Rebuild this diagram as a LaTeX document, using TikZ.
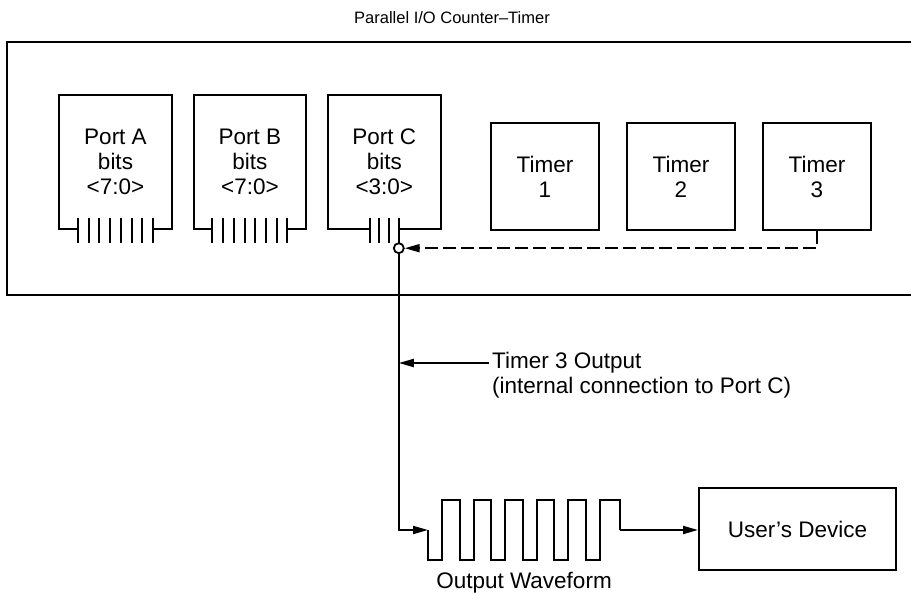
\documentclass[tikz,border=0pt]{standalone}
\usepackage{fontspec}
\setmainfont{Liberation Sans}
\usetikzlibrary{arrows.meta, positioning}

\begin{document}
\begin{tikzpicture}[x=1pt, y=-1pt,
    wire/.style={line width=2pt},
    dashwire/.style={line width=2pt, dash pattern=on 13pt off 5pt},
    sig/.style={-{Triangle[length=15pt,width=8pt]}},
    txt/.style={font=\fontsize{22.5}{25}\selectfont, inner sep=3pt},
    portbox/.style={txt, minimum width=112pt, minimum height=134pt, align=center},
    timerbox/.style={txt, draw, line width=2pt, minimum width=108pt, minimum height=107pt, align=center},
    tapcircle/.style={circle, draw, line width=1.8pt, fill=white, minimum size=10pt, inner sep=0pt}
  ]
    \useasboundingbox (0,0) rectangle (911,594);

    % chip outline, open to the right
    \node[font=\fontsize{16.5}{20}\selectfont] (title) at (452,18) {Parallel I/O Counter–Timer};
    \draw[wire] (911,42) -- (7,42) -- (7,295) -- (911,295);

    % ports
    \node[portbox] (pa) at (115.5,162) {Port A\\bits\\<7:0>};
    \node[portbox, right=22pt of pa] (pb) {Port B\\bits\\<7:0>};
    \node[portbox, right=22pt of pb] (pc) {Port C\\bits\\<3:0>};
    \foreach \p/\w in {pa/37.5, pb/37.5, pc/14.5}
      \draw[wire] ([xshift=-\w pt]\p.south) -- (\p.south west) -- (\p.north west)
        -- (\p.north east) -- (\p.south east) -- ([xshift=\w pt]\p.south);
    \foreach \p in {pa,pb}
      \foreach \i in {0,...,7}
        \draw[wire] ([xshift={(-37.5+\i*75/7)*1pt}, yshift=11pt]\p.south) -- ++(0,25);
    \foreach \i in {0,...,3}
      \draw[wire] ([xshift={(-14.5+\i*29/3)*1pt}, yshift=11pt]pc.south) -- ++(0,25);
    \node[tapcircle] (tap) at ([xshift=14.5pt, yshift=-19pt]pc.south) {};

    % timers
    \node[timerbox] (t1) at (545,176.5) {Timer\\1};
    \node[timerbox, right=26pt of t1] (t2) {Timer\\2};
    \node[timerbox, right=26pt of t2] (t3) {Timer\\3};
    \draw[dashwire, sig] (t3.south) |- (tap.east);

    % output path
    \coordinate (w0) at (428,530);
    \draw[wire, sig] (tap.south) |- (w0);
    \node[txt, anchor=west, align=left] (lbl) at (489,375.5) {Timer 3 Output\\(internal connection to Port C)};
    \coordinate (lead) at ([yshift=12.5pt]lbl.west);
    \draw[wire, sig] (lead) -- (lead -| tap);

    \draw[wire] (w0) -- ++(0,30)
      \foreach \k in {0,...,4} { -- (442+31.6*\k,560) -- ++(0,-60) -- ++(17.5,0) -- ++(0,60) }
      -- (600,560) -- (600,500) -- (620,500) -- (620,530) coordinate (w1);
    \node[txt] (wlabel) at (524,583) {Output Waveform};

    \node[txt, draw, line width=2pt, minimum width=197pt, minimum height=82pt] (dev) at (797.5,529) {User’s Device};
    \draw[wire, sig] (w1) -- (w1 -| dev.west);
  \end{tikzpicture}
\end{document}
